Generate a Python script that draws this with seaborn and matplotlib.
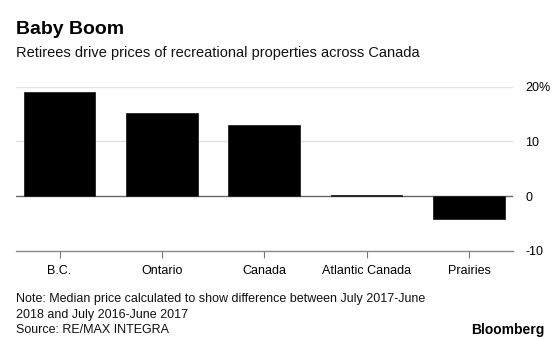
import matplotlib
matplotlib.use("Agg")
import matplotlib.pyplot as plt
import seaborn as sns
import pandas as pd

regions = ["B.C.", "Ontario", "Canada", "Atlantic Canada", "Prairies"]
price_change = [19.1, 15.1, 13.0, 0.3, -4.1]
y_ticks = [-10, 0, 10, 20]
y_tick_labels = ["-10", "0", "10", "20%"]

sns.set_theme(style="white")
plt.rcParams["font.family"] = ["Liberation Sans", "DejaVu Sans"]
plt.rcParams["text.color"] = "black"

df = pd.DataFrame({"region": regions, "change": price_change})

fig = plt.figure(figsize=(5.6, 3.39), dpi=100)
ax = fig.add_axes([0.0286, 0.2596, 0.8874, 0.4848])

sns.barplot(data=df, x="region", y="change", color="black", width=0.7,
            saturation=1, edgecolor="#222222", linewidth=0.6, ax=ax, zorder=3)

ax.set_xlim(-0.425, 4.43)
ax.set_ylim(-10, 20)
ax.set_yticks(y_ticks)
ax.set_yticklabels(y_tick_labels)
ax.yaxis.tick_right()
ax.tick_params(axis="y", length=0, pad=9, labelsize=9, colors="black")
ax.tick_params(axis="x", length=5, width=0.8, color="#777777", pad=5,
               labelsize=9, labelcolor="black", bottom=True)
ax.set_xlabel("")
ax.set_ylabel("")

for s in ["top", "left", "right"]:
    ax.spines[s].set_visible(False)
ax.spines["bottom"].set_color("#888888")
ax.spines["bottom"].set_linewidth(1.0)

for v in [10, 20]:
    ax.axhline(v, color="#e2e2e2", lw=1.0, zorder=1)
ax.axhline(0, color="#666666", lw=1.0, zorder=2)

fig.text(0.0286, 1 - 29 / 339, "Baby Boom", fontsize=14, fontweight="bold",
         va="center", ha="left", color="black")
fig.text(0.0286, 1 - 53.5 / 339,
         "Retirees drive prices of recreational properties across Canada",
         fontsize=10.5, va="center", ha="left", color="#111111")

fig.text(0.0286, 1 - 299 / 339,
         "Note: Median price calculated to show difference between July 2017-June",
         fontsize=9, va="center", ha="left", color="#111111")
fig.text(0.0286, 1 - 315 / 339, "2018 and July 2016-June 2017",
         fontsize=9, va="center", ha="left", color="#111111")
fig.text(0.0286, 1 - 330 / 339, "Source: RE/MAX INTEGRA",
         fontsize=9, va="center", ha="left", color="#111111")
fig.text(545 / 560, 1 - 330 / 339, "Bloomberg", fontsize=10, fontweight="bold",
         va="center", ha="right", color="black")

fig.savefig("out.png", dpi=100)
